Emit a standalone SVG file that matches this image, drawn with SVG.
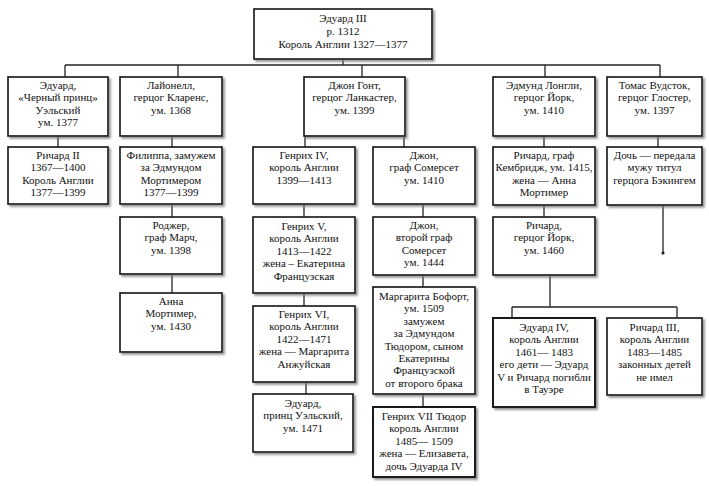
<svg xmlns="http://www.w3.org/2000/svg" width="709" height="486" viewBox="0 0 709 486">
<style>
.box{fill:#fff;stroke:#111;stroke-width:1.6;filter:url(#sh)}
.thick{stroke-width:1.9}
text{font-family:"Liberation Serif","Times New Roman",serif;font-size:11px;fill:#111;text-anchor:middle}
.con line{stroke:#222;stroke-width:1.3}
</style>
<defs>
<filter id="sh" x="-10%" y="-10%" width="130%" height="130%">
<feDropShadow dx="2" dy="2" stdDeviation="1.2" flood-color="#777" flood-opacity="0.8"/>
</filter>
</defs>
<rect width="709" height="486" fill="#fff"/>
<g class="con" id="connectors">
<line x1="343" y1="59" x2="343" y2="65"/>
<line x1="65" y1="65" x2="660" y2="65"/>
<line x1="65" y1="65" x2="65" y2="77"/>
<line x1="178" y1="65" x2="178" y2="77"/>
<line x1="362" y1="65" x2="362" y2="77"/>
<line x1="545" y1="65" x2="545" y2="77"/>
<line x1="660" y1="65" x2="660" y2="77"/>
<line x1="58" y1="136" x2="58" y2="147"/>
<line x1="172" y1="136" x2="172" y2="147"/>
<line x1="172" y1="204" x2="172" y2="217"/>
<line x1="172" y1="274" x2="172" y2="293"/>
<line x1="305" y1="136" x2="305" y2="147"/>
<line x1="404" y1="136" x2="404" y2="147"/>
<line x1="304" y1="204" x2="304" y2="217"/>
<line x1="304" y1="293" x2="304" y2="306"/>
<line x1="306" y1="382" x2="306" y2="394"/>
<line x1="423" y1="204" x2="423" y2="217"/>
<line x1="423" y1="275" x2="423" y2="287"/>
<line x1="423" y1="394" x2="423" y2="407"/>
<line x1="544" y1="136" x2="544" y2="147"/>
<line x1="544" y1="205" x2="544" y2="217"/>
<line x1="550" y1="275" x2="550" y2="307"/>
<line x1="512" y1="307" x2="677" y2="307"/>
<line x1="512" y1="307" x2="512" y2="318"/>
<line x1="677" y1="307" x2="677" y2="318"/>
<line x1="658" y1="136" x2="658" y2="147"/>
<line x1="663" y1="205" x2="663" y2="253"/>
<circle cx="663" cy="253" r="1.6" fill="#222"/>
</g>
<g id="edward3"><rect class="box" x="254" y="9" width="178" height="50"/>
<text x="343" y="22">Эдуард III</text><text x="343" y="35">р. 1312</text><text x="343" y="48">Король Англии 1327—1377</text></g>
<g id="black-prince"><rect class="box" x="8" y="77" width="100" height="59"/>
<text x="58" y="89">Эдуард,</text><text x="58" y="101.4">«Черный принц»</text><text x="58" y="113.8">Уэльский</text><text x="58" y="126.2">ум. 1377</text></g>
<g id="lionel"><rect class="box" x="120" y="77" width="102" height="59"/>
<text x="171" y="89">Лайонелл,</text><text x="171" y="101.4">герцог Кларенс,</text><text x="171" y="113.8">ум. 1368</text></g>
<g id="gaunt"><rect class="box" x="304" y="77" width="101" height="59"/>
<text x="354.5" y="89">Джон Гонт,</text><text x="354.5" y="101.4">герцог Ланкастер,</text><text x="354.5" y="113.8">ум. 1399</text></g>
<g id="edmund"><rect class="box" x="493" y="77" width="102" height="59"/>
<text x="544" y="89">Эдмунд Лонгли,</text><text x="544" y="101.4">герцог Йорк,</text><text x="544" y="113.8">ум. 1410</text></g>
<g id="thomas"><rect class="box" x="607" y="77" width="95" height="59"/>
<text x="654.5" y="89">Томас Вудсток,</text><text x="654.5" y="101.4">герцог Глостер,</text><text x="654.5" y="113.8">ум. 1397</text></g>
<g id="richard2"><rect class="box" x="8" y="147" width="100" height="57"/>
<text x="58" y="159">Ричард II</text><text x="58" y="171.4">1367—1400</text><text x="58" y="183.8">Король Англии</text><text x="58" y="196.2">1377—1399</text></g>
<g id="philippa"><rect class="box" x="120" y="147" width="102" height="57"/>
<text x="171" y="159">Филиппа, замужем</text><text x="171" y="171.4">за Эдмундом</text><text x="171" y="183.8">Мортимером</text><text x="171" y="196.2">1377—1399</text></g>
<g id="roger"><rect class="box" x="120" y="217" width="102" height="57"/>
<text x="171" y="229">Роджер,</text><text x="171" y="241.4">граф Марч,</text><text x="171" y="253.8">ум. 1398</text></g>
<g id="anna"><rect class="box" x="120" y="293" width="102" height="59"/>
<text x="171" y="305">Анна</text><text x="171" y="317.4">Мортимер,</text><text x="171" y="329.8">ум. 1430</text></g>
<g id="henry4"><rect class="box" x="253" y="147" width="102" height="57"/>
<text x="304" y="159">Генрих IV,</text><text x="304" y="171.4">король Англии</text><text x="304" y="183.8">1399—1413</text></g>
<g id="henry5"><rect class="box" x="253" y="217" width="102" height="76"/>
<text x="304" y="230">Генрих V,</text><text x="304" y="242.4">король Англии</text><text x="304" y="254.8">1413—1422</text><text x="304" y="267.2">жена – Екатерина</text><text x="304" y="279.6">Французская</text></g>
<g id="henry6"><rect class="box" x="253" y="306" width="102" height="76"/>
<text x="304" y="318">Генрих VI,</text><text x="304" y="330.4">король Англии</text><text x="304" y="342.8">1422—1471</text><text x="304" y="355.2">жена — Маргарита</text><text x="304" y="367.6">Анжуйская</text></g>
<g id="edward-prince"><rect class="box" x="253" y="394" width="100" height="58"/>
<text x="303" y="407">Эдуард,</text><text x="303" y="419.4">принц Уэльский,</text><text x="303" y="431.8">ум. 1471</text></g>
<g id="john-somerset"><rect class="box" x="373" y="147" width="102" height="57"/>
<text x="424" y="159">Джон,</text><text x="424" y="171.4">граф Сомерсет</text><text x="424" y="183.8">ум. 1410</text></g>
<g id="john-second"><rect class="box" x="373" y="217" width="102" height="58"/>
<text x="424" y="229">Джон,</text><text x="424" y="241.4">второй граф</text><text x="424" y="253.8">Сомерсет</text><text x="424" y="266.2">ум. 1444</text></g>
<g id="margaret"><rect class="box" x="373" y="287" width="102" height="107"/>
<text x="424" y="300">Маргарита Бофорт,</text><text x="424" y="312.4">ум. 1509</text><text x="424" y="324.8">замужем</text><text x="424" y="337.2">за Эдмундом</text><text x="424" y="349.6">Тюдором, сыном</text><text x="424" y="362">Екатерины</text><text x="424" y="374.4">Французской</text><text x="424" y="386.8">от второго брака</text></g>
<g id="henry7"><rect class="box thick" x="373" y="407" width="102" height="70"/>
<text x="424" y="420">Генрих VII Тюдор</text><text x="424" y="432.4">король Англии</text><text x="424" y="444.8">1485— 1509</text><text x="424" y="457.2">жена — Елизавета,</text><text x="424" y="469.6">дочь Эдуарда IV</text></g>
<g id="richard-cambridge"><rect class="box" x="493" y="147" width="102" height="58"/>
<text x="544" y="159">Ричард, граф</text><text x="544" y="171.4">Кембридж, ум. 1415,</text><text x="544" y="183.8">жена — Анна</text><text x="544" y="196.2">Мортимер</text></g>
<g id="richard-york"><rect class="box" x="493" y="217" width="102" height="58"/>
<text x="544" y="229">Ричард,</text><text x="544" y="241.4">герцог Йорк,</text><text x="544" y="253.8">ум. 1460</text></g>
<g id="edward4"><rect class="box thick" x="493" y="318" width="102" height="89"/>
<text x="544" y="331">Эдуард IV,</text><text x="544" y="343.4">король Англии</text><text x="544" y="355.8">1461— 1483</text><text x="544" y="368.2">его дети — Эдуард</text><text x="544" y="380.6">V и Ричард погибли</text><text x="544" y="393">в Тауэре</text></g>
<g id="richard3"><rect class="box" x="607" y="318" width="95" height="77"/>
<text x="654.5" y="331">Ричард III,</text><text x="654.5" y="343.4">король Англии</text><text x="654.5" y="355.8">1483—1485</text><text x="654.5" y="368.2">законных детей</text><text x="654.5" y="380.6">не имел</text></g>
<g id="daughter"><rect class="box" x="607" y="147" width="95" height="58"/>
<text x="654.5" y="159">Дочь — передала</text><text x="654.5" y="171.4">мужу титул</text><text x="654.5" y="183.8">герцога Бэкингем</text></g>
</svg>
